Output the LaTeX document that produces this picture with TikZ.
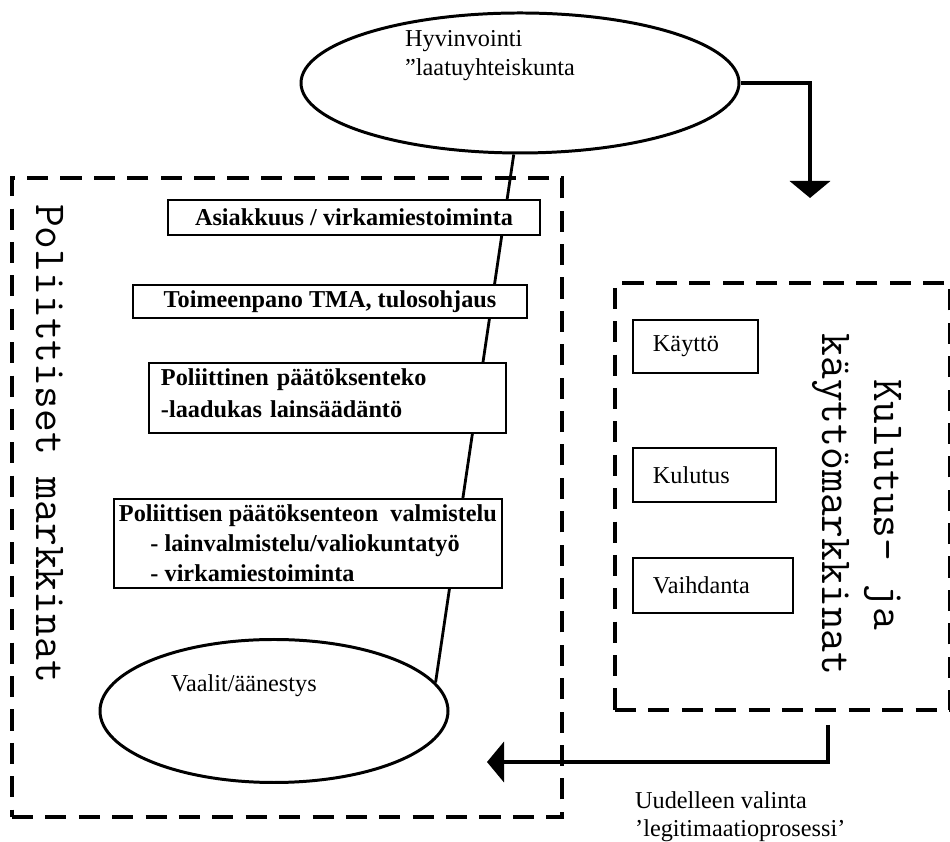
\documentclass[tikz,border=0pt]{standalone}
\usepackage{fontspec}
\setmainfont{Liberation Serif}
\usepackage{tikz}
\usetikzlibrary{arrows.meta,positioning,shapes.geometric,calc,backgrounds}
\tikzset{
  market/.style={draw, rectangle, line width=2.4pt, dash pattern=on 12pt off 7pt, inner sep=0pt},
  oval/.style={draw, ellipse, line width=1.7pt, fill=white, inner sep=0pt},
  stage/.style={draw, rectangle, line width=1.1pt, fill=white, font=\bfseries\fontsize{13.8}{16.5}\selectfont},
  choice/.style={draw, rectangle, line width=1.1pt, fill=white, anchor=north west, inner xsep=0.4cm, align=left, font=\fontsize{13.8}{15.9}\selectfont},
  plain/.style={align=left, font=\fontsize{13.8}{16.4}\selectfont},
  title/.style={rotate=-90, align=center, font=\ttfamily\fontsize{25.2}{30}\selectfont},
  flow/.style={-{Triangle[width=0.8cm,length=0.34cm]}, line width=2.4pt},
  link/.style={line width=1.6pt}
}
\begin{document}
\begin{tikzpicture}[x=1cm,y=1cm]
  \useasboundingbox (0,0) rectangle (19,16.84);
  % markets
  \node[market, minimum width=11cm, minimum height=12.78cm] (pol) at (5.74,6.89) {};
  \node[market, minimum width=6.7cm, minimum height=8.54cm] (kul) at (15.65,6.91) {};
  \node[title] (poltitle) at (1.0,7.97) {Poliittiset markkinat};
  \node[title] (kultitle) at (17.14,6.75) {Kulutus- ja\\käyttömarkkinat};
  % welfare and elections
  \node[oval, minimum width=8.76cm, minimum height=2.8cm] (hyv) at (10.4,15.18) {};
  \node[plain, anchor=north west] (hyvtxt) at (7.98,16.36) {Hyvinvointi\\”laatuyhteiskunta};
  \node[oval, minimum width=6.96cm, minimum height=2.86cm] (vaal) at (5.48,2.62) {};
  \node[plain, anchor=base west] (vaaltxt) at (3.3,3.0) {Vaalit/äänestys};
  % political process
  \node[stage, minimum width=7.44cm, minimum height=0.7cm] (asi) at (7.08,12.49) {Asiakkuus / virkamiestoiminta};
  \node[stage, minimum width=7.88cm, minimum height=0.66cm] (toi) at (6.6,10.81) {Toimeenpano TMA, tulosohjaus};
  \node[stage, anchor=north west, text width=6.66cm, minimum height=1.4cm, inner xsep=0.24cm, inner ysep=2pt, align=left, text depth=0.85cm] (pad) at (2.96,9.6)
    {Poliittinen päätöksenteko\\[2pt]-laadukas lainsäädäntö};
  \node[stage, anchor=north west, minimum width=7.58cm, minimum height=1.78cm, inner xsep=0.1cm, inner ysep=1pt, align=left] (val) at (2.26,6.88)
    {Poliittisen päätöksenteon\ \ valmistelu\\[0.5pt]\hspace*{1.3em}- lainvalmistelu/valiokuntatyö\\[0.5pt]\hspace*{1.3em}- virkamiestoiminta};
  % consumption
  \node[choice, text width=1.7cm, minimum height=1.06cm] (kay) at (12.64,10.46) {Käyttö};
  \node[choice, text width=2.06cm, minimum height=1.08cm] (kult) at (12.64,7.9) {Kulutus};
  \node[choice, text width=2.4cm, minimum height=1.1cm] (vai) at (12.64,5.7) {Vaihdanta};
  \coordinate (down) at (16.2,12.88);
  \coordinate (ret) at (16.56,2.34);
  \coordinate (back) at (9.74,1.6);
  \begin{scope}[on background layer]
    \draw[link] (hyv.265) -- (vaal.10);
  \end{scope}
  \draw[flow] (hyv.east) -| (down);
  \draw[flow] (ret) |- (back);
  \node[plain, anchor=north west] (legit) at (12.58,1.14) {Uudelleen valinta\\’legitimaatioprosessi’};
\end{tikzpicture}
\end{document}
